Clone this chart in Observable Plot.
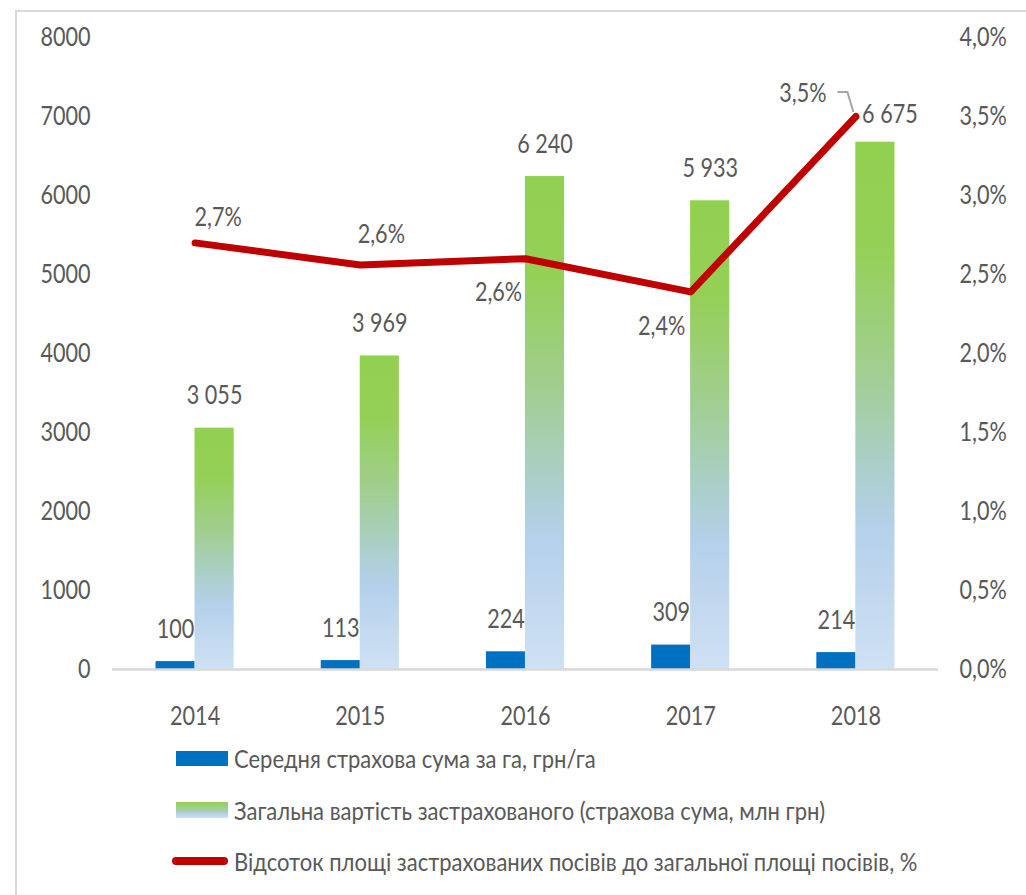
<!DOCTYPE html>
<html>
<head>
<meta charset="utf-8">
<script src="https://cdn.jsdelivr.net/npm/d3@7"></script>
<script src="https://cdn.jsdelivr.net/npm/@observablehq/plot@0.6"></script>
<style>
  body { margin: 0; background: #fff; }
  #wrap { position: relative; width: 1026px; height: 895px; overflow: hidden; background: #fff;
          font-family: Lato, "DejaVu Sans Condensed", sans-serif; color: #595959; }
  #frame { position: absolute; left: 15px; top: 10px; width: 1200px; height: 1000px;
           border-left: 2px solid #D9D9D9; border-top: 2px solid #D9D9D9; }
  #chart { position: absolute; left: 0; top: 0; }
  .row { position: absolute; left: 172px; height: 30px; display: flex; align-items: center; font-size: 25px; white-space: nowrap; }
  .sw { display: inline-block; width: 52px; margin-left: 4px; margin-right: 6px; flex: none; }
  .sw.blue { height: 15px; background: #0070C0; }
  .sw.grad { height: 16px; background: linear-gradient(#92D050, #A6CFAE 55%, #B4D0EA 75%, #CFE1F4); }
  .sw.line { height: 8px; width: 56px; margin-left: 0; margin-right: 6px; border-radius: 4px; background: #C00000; }
  .lab { display: inline-block; transform: scaleX(0.88); transform-origin: left center; }
</style>
</head>
<body>
<div id="wrap">
  <div id="frame"></div>
  <div id="chart"></div>
  <div id="legend"></div>
</div>
<script>
// ---- data ----
const years = ["2014", "2015", "2016", "2017", "2018"];
const avgInsuredPerHa = [100, 113, 224, 309, 214];          // грн/га
const totalInsuredValue = [3055, 3969, 6240, 5933, 6675];    // млн грн
const insuredAreaPct = [2.7, 2.56, 2.6, 2.39, 3.5];          // %
const leftTicks = [0, 1000, 2000, 3000, 4000, 5000, 6000, 7000, 8000];
const rightTicksPct = [0, 0.5, 1, 1.5, 2, 2.5, 3, 3.5, 4];
const legendLabels = [
  "Середня страхова сума за га, грн/га",
  "Загальна вартість застрахованого (страхова сума, млн грн)",
  "Відсоток площі застрахованих посівів до загальної площі посівів, %"
];

const pctToLeft = 8000 / 4; // secondary axis: 4% ↔ 8000

const rows = years.map((year, i) => ({
  year,
  avg: avgInsuredPerHa[i],
  total: totalInsuredValue[i],
  pct: insuredAreaPct[i]
}));

const fmtSpace = d => d3.format(",")(d).replace(/,/g, " ");
const fmtPct = p => p.toFixed(1).replace(".", ",") + "%";

const FONT = 'Lato, "DejaVu Sans Condensed", sans-serif';
const TXT = "#595959";
const FS = 27;

// gradient defs
function defsMark() {
  const ns = "http://www.w3.org/2000/svg";
  const defs = document.createElementNS(ns, "defs");
  const lg = document.createElementNS(ns, "linearGradient");
  lg.setAttribute("id", "greenBlue");
  lg.setAttribute("x1", "0"); lg.setAttribute("y1", "0");
  lg.setAttribute("x2", "0"); lg.setAttribute("y2", "1");
  [[0, "#92D050"], [0.2, "#94D056"], [0.45, "#A2CE96"], [0.6, "#AACFC6"], [0.73, "#B4D0EA"], [1, "#CFE1F4"]]
    .forEach(([o, c]) => {
      const s = document.createElementNS(ns, "stop");
      s.setAttribute("offset", o);
      s.setAttribute("stop-color", c);
      lg.appendChild(s);
    });
  defs.appendChild(lg);
  return defs;
}

// leader line for the 2018 percent label
function leaderMark(index, scales) {
  const ns = "http://www.w3.org/2000/svg";
  const x = scales.x, y = scales.y;
  const bw = typeof x.bandwidth === "function" ? x.bandwidth() : 0;
  const last = rows[rows.length - 1];
  const px = x(last.year) + bw / 2;
  const py = y(last.pct * pctToLeft);
  const p = document.createElementNS(ns, "path");
  p.setAttribute("d", `M${px - 18},${py - 24}H${px - 8}L${px - 2},${py - 4}`);
  p.setAttribute("fill", "none");
  p.setAttribute("stroke", "#A6A6A6");
  p.setAttribute("stroke-width", 2);
  return p;
}

const pctLabelOffsets = [[23, -26], [21, -31], [-27, 34], [-29, 34], [-53, -23]];

const chart = Plot.plot({
  width: 1026,
  height: 740,
  marginTop: 37,
  marginBottom: 71,
  marginLeft: 112,
  marginRight: 88,
  x: { type: "band", domain: years, paddingInner: 0.527, paddingOuter: 0.2635, round: false, axis: null },
  y: { domain: [0, 8000], axis: null },
  style: { fontFamily: FONT, fontSize: FS + "px", color: TXT, background: "transparent", overflow: "visible" },
  marks: [
    defsMark,
    Plot.barY(rows, { x: "year", y: "avg", fill: "#0070C0", insetRight: 39 }),
    Plot.barY(rows, { x: "year", y: "total", fill: "url(#greenBlue)", insetLeft: 39 }),
    Plot.ruleY([0], { stroke: "#D9D9D9", strokeWidth: 2.5 }),
    Plot.axisY(leftTicks, { anchor: "left", tickSize: 0, tickPadding: 22, tickFormat: d => String(d), fill: TXT, fontSize: FS, label: null }),
    Plot.axisY(rightTicksPct.map(p => p * pctToLeft), { anchor: "right", tickSize: 0, tickPadding: 21,
      tickFormat: d => fmtPct(d / pctToLeft), fill: TXT, fontSize: FS, label: null }),
    Plot.axisX({ anchor: "bottom", tickSize: 0, tickPadding: 36, fill: TXT, fontSize: FS, label: null }),
    // value labels: blue bars
    Plot.text(rows, { x: "year", y: "avg", text: d => String(d.avg), dx: -19.5, dy: -24, lineAnchor: "bottom", fill: TXT, fontSize: FS }),
    // value labels: gradient bars
    Plot.text(rows, { filter: (d, i) => i < rows.length - 1, x: "year", y: "total", text: d => fmtSpace(d.total),
      dx: 19.5, dy: -24, lineAnchor: "bottom", fill: TXT, fontSize: FS }),
    Plot.text(rows, { filter: (d, i) => i === rows.length - 1, x: "year", y: "total", text: d => fmtSpace(d.total),
      dx: 34, dy: -19, lineAnchor: "bottom", fill: TXT, fontSize: FS }),
    // percent line
    Plot.line(rows, { x: "year", y: d => d.pct * pctToLeft, stroke: "#C00000", strokeWidth: 7,
      strokeLinecap: "round", strokeLinejoin: "round" }),
    leaderMark,
    ...pctLabelOffsets.map(([dx, dy], i) =>
      Plot.text(rows, { filter: (d, j) => j === i, x: "year", y: d => d.pct * pctToLeft, text: d => fmtPct(d.pct),
        dx, dy, fill: TXT, fontSize: FS }))
  ]
});
document.getElementById("chart").appendChild(chart);

// narrow the glyphs horizontally around each text's anchor (reference uses a condensed face)
chart.querySelectorAll("text").forEach(t => {
  const prev = t.getAttribute("transform") || "";
  const x = parseFloat(t.getAttribute("x")) || 0;
  t.setAttribute("transform", `${prev} translate(${x},0) scale(0.8,1) translate(${-x},0)`);
});

// legend
const legend = document.getElementById("legend");
const swClasses = ["blue", "grad", "line"];
const rowCenters = [758, 810, 861];
legendLabels.forEach((lab, i) => {
  const r = document.createElement("div");
  r.className = "row";
  r.style.top = (rowCenters[i] - 15) + "px";
  const sw = document.createElement("span");
  sw.className = "sw " + swClasses[i];
  const t = document.createElement("span");
  t.className = "lab";
  t.textContent = lab;
  r.appendChild(sw); r.appendChild(t);
  legend.appendChild(r);
});
</script>
</body>
</html>
